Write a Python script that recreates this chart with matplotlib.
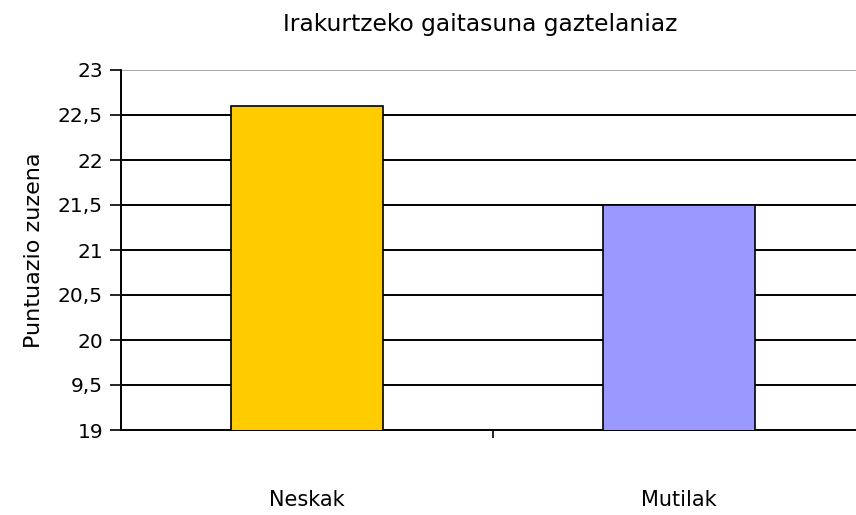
import numpy as np
import matplotlib.pyplot as plt

# Data
categories = ["Neskak", "Mutilak"]
values = [22.6, 21.5]
colors = ["#FFCC00", "#9999FF"]
yticks = [19, 19.5, 20, 20.5, 21, 21.5, 22, 22.5, 23]
ytick_labels = ["19", "9,5", "20", "20,5", "21", "21,5", "22", "22,5", "23"]

fig = plt.figure(figsize=(8.56, 5.15), dpi=100)
# axes runs past the right edge, as in the cropped original
ax = fig.add_axes([121 / 856, 85 / 515, 744 / 856, 360 / 515])

x = np.arange(len(categories))
ax.bar(x, values, width=0.41, color=colors, edgecolor="black", linewidth=1.2, zorder=3)

ax.set_ylim(19, 23)
ax.set_xlim(-0.5, 1.5)
ax.set_yticks(yticks)
ax.set_yticklabels(ytick_labels, fontsize=14.5)
ax.tick_params(axis="y", direction="out", length=8, width=1.2, pad=5)

# gridlines: black, top one grey
for v in yticks[1:-1]:
    ax.axhline(v, color="black", linewidth=1.4, zorder=1)
ax.axhline(yticks[-1], color="#999999", linewidth=1.2, zorder=1)

# category labels well below the axis, separator tick between them
ax.set_xticks(x)
ax.set_xticklabels(categories, fontsize=15)
ax.tick_params(axis="x", which="major", length=0, pad=43)
ax.set_xticks([0.5], minor=True)
ax.tick_params(axis="x", which="minor", direction="out", length=6, width=1.2)

for s in ["top", "right"]:
    ax.spines[s].set_visible(False)
ax.spines["left"].set_linewidth(1.4)
ax.spines["bottom"].set_linewidth(1.4)

ax.set_ylabel("Puntuazio zuzena", fontsize=16, labelpad=10)
fig.text(480 / 856, 1 - 24 / 515, "Irakurtzeko gaitasuna gaztelaniaz",
         ha="center", va="center", fontsize=16.8)

fig.savefig("out.png", dpi=100)
